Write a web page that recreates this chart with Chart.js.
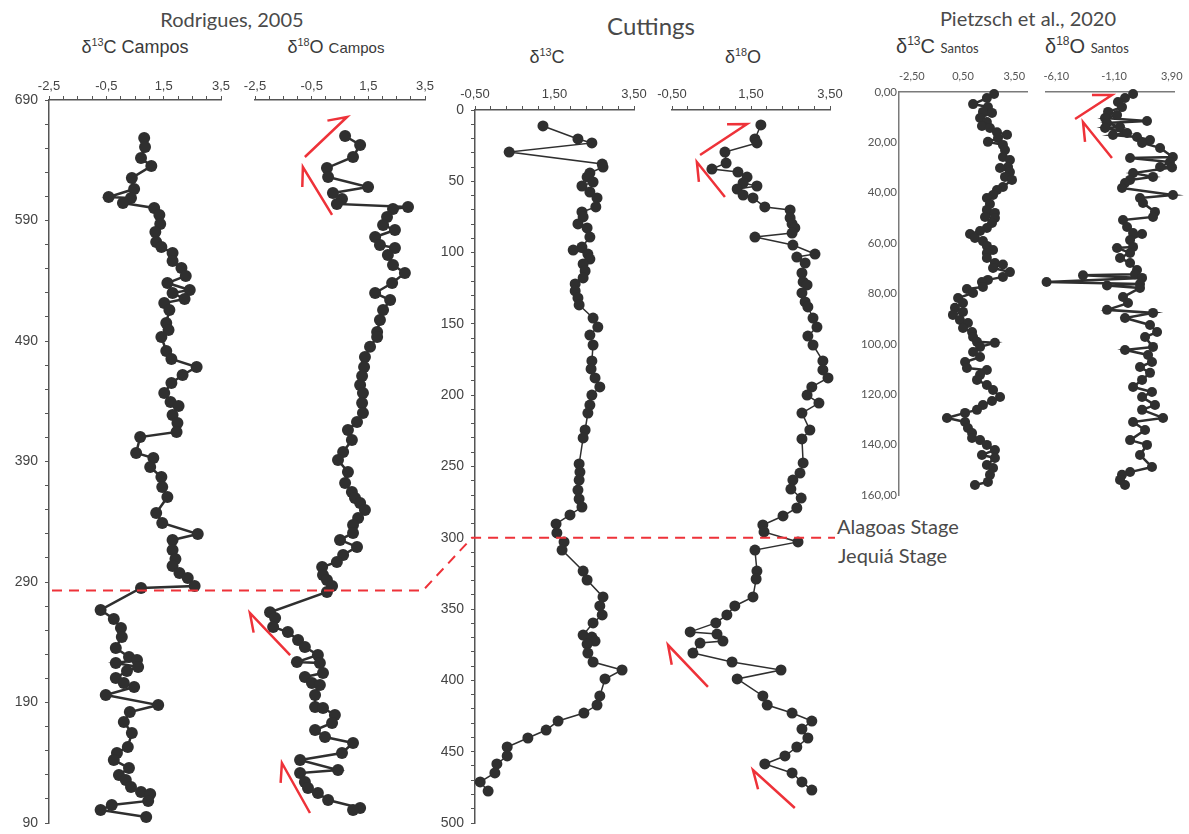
<!DOCTYPE html>
<html>
<head>
<meta charset="utf-8">
<script src="https://cdn.jsdelivr.net/npm/chart.js@4.4.0/dist/chart.umd.min.js"></script>
<style>
  body { margin: 0; background: #fff; width: 1189px; height: 834px; overflow: hidden; position: relative; font-family: 'Liberation Sans', Arial, sans-serif; }
  canvas { position: absolute; }
  .t { position: absolute; white-space: nowrap; color: #3a3a3a; }
  .c { transform: translate(-50%, -50%); }
  .l { transform: translate(0, -50%); }
  .head { font-family: Lato, 'Open Sans', sans-serif; color: #4a4a4a; }
  sup { font-size: 0.6em; vertical-align: 0.6em; line-height: 0; }
</style>
</head>
<body>
<div class="t c head" style="left:232px;top:19px;font-size:20px">Rodrigues, 2005</div>
<div class="t c" style="left:135px;top:47px;font-size:18px">δ<sup>13</sup>C Campos</div>
<div class="t c" style="left:336px;top:47px;font-size:18px">δ<sup>18</sup>O <span style="font-size:15px">Campos</span></div>

<div class="t c head" style="left:651px;top:25px;font-size:24px">Cuttings</div>
<div class="t c" style="left:547px;top:57px;font-size:18px">δ<sup>13</sup>C</div>
<div class="t c" style="left:743px;top:57px;font-size:18px">δ<sup>18</sup>O</div>

<div class="t c head" style="left:1028px;top:18px;font-size:20px">Pietzsch et al., 2020</div>
<div class="t l" style="left:896px;top:46px;font-size:20px">δ<sup>13</sup>C <span style="font-size:13px;font-family:Lato">Santos</span></div>
<div class="t l" style="left:1045px;top:46px;font-size:20px">δ<sup>18</sup>O <span style="font-size:13px;font-family:Lato">Santos</span></div>

<div class="t l head" style="left:837px;top:526px;font-size:20px">Alagoas Stage</div>
<div class="t l head" style="left:838px;top:555px;font-size:20px">Jequiá Stage</div>

<canvas id="rodC"></canvas>
<canvas id="rodO"></canvas>
<canvas id="cutC"></canvas>
<canvas id="cutO"></canvas>
<canvas id="pieC"></canvas>
<canvas id="pieO"></canvas>
<canvas id="overlay" width="1189" height="834" style="left:0;top:0"></canvas>

<script>
// Rodrigues, 2005 (Campos) - depth axis 90..690
const rodC13Depth = [658.5,651,641.9,635.2,625.3,616.1,609.5,608.7,604.5,600.4,594.6,587.1,580.5,572.2,568,563,556.4,550.6,544,538.1,532.3,529.8,524.9,521.5,515.7,505,499.1,493.3,481.7,475.1,468.4,461.8,455.1,446.8,439.4,436.1,428.6,422,414.5,410.3,397.1,392.9,385.4,377.1,368.8,360.5,347.3,339,329.8,324.9,316.6,309.1,303.3,297.5,293.3,286.7,285,266.8,259.3,251.8,244.4,235.2,227.8,225.3,222.8,219.5,216.1,210.3,206.2,202.9,196.2,187.9,182.1,173.8,164.7,153.1,148.1,142.3,135.6,129.8,125.7,119.9,115.7,114.1,108.3,104.9,100.8,95];
const rodC13Value = [0.82,0.85,0.71,1.07,0.39,0.47,-0.42,0.36,0.08,1.17,1.35,1.38,1.21,1.24,1.42,1.81,1.81,2.12,2.27,1.63,2.41,1.81,2.23,1.52,1.70,1.59,1.67,1.42,1.59,1.77,2.65,2.16,1.77,1.52,1.74,2.02,1.81,1.98,1.95,0.68,0.54,1.14,1.03,1.42,1.45,1.63,1.24,1.45,2.69,1.81,1.81,1.91,1.81,2.05,2.34,2.58,0.71,-0.70,-0.24,0.01,0.04,-0.17,0.29,0.57,-0.17,0.61,0.22,-0.17,0.11,0.47,-0.52,1.31,0.32,0.11,0.39,0.25,-0.13,-0.24,0.29,-0.06,0.18,0.36,0.71,1.03,0.96,-0.31,-0.70,0.89];

const rodO18Depth = [660.1,652.7,642.7,633.6,626.1,617.8,612.8,607.8,603.7,601.2,599.5,592.9,586.3,582.1,576.3,569.7,567.2,561.4,553.1,546.4,538.1,529.8,524,515.7,507.4,497.5,493.3,485.2,476.7,468.4,460.9,453.5,446.8,438.5,430.3,422.8,416.1,407.8,397.9,391.2,381.3,372.2,364.7,359.7,355.6,349.8,343.1,337.3,330.7,324.9,319.1,312.4,306.6,302.4,295.8,291.7,286.7,281.7,264.9,260.1,252.7,248.5,241.9,236,229.4,223.6,222.8,214.5,211.2,206.2,204.5,196.2,186.3,185.4,179.6,173,167.2,161.4,156.4,148.1,142.3,134,131.5,124,119,114.9,109.1,102.4,100.8];
const rodO18Value = [0.68,1.21,0.96,0.04,0.08,1.49,0.25,0.57,0.39,2.90,2.37,2.16,2.02,2.44,1.74,1.91,2.44,2.19,2.37,2.79,2.34,1.74,2.27,2.02,1.91,1.81,1.81,1.56,1.38,1.35,1.28,1.21,1.31,1.28,1.31,1.10,0.78,0.92,0.61,0.43,0.78,0.68,0.92,1.03,1.21,1.38,1.14,0.96,0.96,0.50,1.10,0.61,0.39,-0.13,-0.10,0.04,0.22,0.04,-1.97,-1.79,-1.86,-1.34,-0.98,-0.74,-0.28,-1.02,-0.21,-0.10,-0.74,-0.49,-0.21,-0.38,-0.38,-0.10,0.32,0.22,-0.38,-0.03,0.96,0.57,-0.91,0.43,-0.91,-0.74,-0.63,-0.28,0.08,1.21,0.96];

// Cuttings - depth axis 0..500
const cutC13Depth = [11.2,20.3,23.1,29.5,37.9,40,44.2,47,50.5,53.3,57.5,61.7,68,71.5,75,79.9,82.7,89.1,96.1,98.2,101,104.5,108,112.9,117.8,122,126.9,131.8,136.7,145.9,152.2,157.8,164.8,176,181.6,187.9,194.2,199.9,206.9,212.5,224.4,230,248.2,253.9,259.5,266.5,272.8,278.4,284,290.3,296.6,302.9,308.6,323.3,329.6,341.5,347.8,354.1,359.7,368.2,369.6,372.4,374.5,380.8,387.1,392.7,399,410.9,417.3,422.9,428.5,434.8,440.4,446.7,453,458.6,464.9,471.2,477.6];
const cutC13Value = [1.21,2.09,2.44,0.36,2.70,2.72,2.39,2.32,2.47,2.19,2.39,2.57,2.54,2.19,2.22,2.09,2.32,2.39,2.19,1.97,2.34,2.39,2.22,2.27,2.22,2.02,2.02,2.09,2.12,2.47,2.59,2.39,2.47,2.44,2.42,2.52,2.64,2.44,2.39,2.34,2.27,2.22,2.12,2.14,2.12,2.09,2.12,2.19,1.89,1.54,1.56,1.74,1.69,2.22,2.32,2.72,2.64,2.70,2.47,2.22,2.44,2.52,2.32,2.34,2.47,3.20,2.77,2.64,2.57,2.24,1.59,1.29,0.83,0.31,0.31,0.05,0.00,-0.37,-0.17];

const cutO18Depth = [10.5,20.3,23.1,29.5,37.2,41.4,43.5,47,51.2,53.3,55.4,59.6,61.7,68,70.1,75.7,79.9,82.7,86.3,89.1,94.7,101,103.1,107.3,114.3,120.6,122.7,128.3,134.6,138.1,145.9,152.2,158.5,164.8,176,182.3,187.9,194.2,199.9,205.5,212.5,224.4,230.7,247.5,254.6,259.5,265.8,272.1,279.1,284.7,291,295.9,302.9,308.6,323.3,328.9,341.5,347.8,354.1,359.7,366,367.5,372.4,373.8,380.8,387.1,392.7,399,410.9,417.3,422.9,428.5,434.1,440.4,446.7,453,458.6,464.9,471.2,476.9];
const cutO18Value = [1.75,1.60,1.65,0.84,0.87,0.51,1.17,1.40,1.30,1.65,1.15,1.30,1.55,1.85,2.49,2.49,2.54,2.61,2.54,1.60,2.56,3.12,2.66,2.87,2.79,2.82,2.92,2.79,2.87,2.94,3.07,3.17,2.94,3.07,3.32,3.32,3.45,3.04,2.92,3.22,2.79,2.99,2.79,2.82,2.74,2.56,2.51,2.77,2.66,2.31,1.80,1.83,2.69,1.60,1.65,1.63,1.55,1.09,0.89,0.61,-0.04,0.64,0.79,0.21,0.03,1.02,2.26,1.15,1.80,1.91,2.54,3.04,2.79,2.94,2.66,2.36,1.85,2.54,2.79,3.04];

// Pietzsch et al., 2020 (Santos) - depth axis 0..160
const pieC13Depth = [0.8,2.4,4.8,6,7.9,8.3,10.3,11.9,13.5,14.3,16,17,18.3,19.8,21,23,25.8,27,29.8,30.2,31.8,33.7,34.9,37.7,38.9,40.9,42.1,44.5,46.8,48,49.6,50,52,54,55.2,56.4,58,59.2,61.1,62.7,63.9,65.9,67.9,68.5,69.9,71.5,73.4,74.6,75.4,77.4,78.2,79.8,81.8,83.8,85.7,87.3,88.5,90.5,91.7,93.7,95.3,97.3,99.2,99.6,101.2,103.2,105.2,107.2,109.6,110.4,112.3,114.3,116.3,118.3,121.1,122.7,124.3,126.2,127.4,129.4,131,133.4,135.4,137.4,138.2,140.1,142.1,144.1,145.3,148.1,149.3,152,154.8,156];
const pieC13Value = [2.32,1.90,1.09,1.96,1.67,2.20,1.50,1.90,1.61,2.08,2.49,3.08,2.55,1.96,2.84,2.96,2.84,3.25,3.14,2.67,3.25,2.96,3.37,2.84,2.49,2.26,1.90,2.08,1.90,2.37,1.79,2.37,2.20,1.90,1.50,0.91,1.20,1.67,1.90,2.26,1.90,1.90,2.37,2.84,2.26,3.25,2.84,1.96,1.61,1.67,0.73,1.09,0.21,0.50,0.03,0.50,-0.09,0.32,0.79,0.50,1.03,1.09,1.32,2.37,1.50,1.09,1.50,0.62,0.73,1.90,1.50,1.32,1.90,2.26,2.67,2.20,1.67,1.32,0.62,-0.44,0.62,0.79,1.03,1.03,1.50,1.90,2.37,1.61,2.37,1.90,2.26,2.08,1.96,1.20];

const pieO18Depth = [0.8,2.4,4,6,7.9,9.1,10.3,11.5,12.3,13.9,14.3,16.3,17.1,17.9,19.1,20.2,22.2,25.8,26.2,27.8,29.8,30,32.2,33.7,34.9,36.1,38.1,40.9,42.1,44.1,47.6,49.6,50.8,53.6,56,56.4,58.8,61.5,61.9,63.9,65.9,67.9,70.7,72.4,72.8,73.8,75.4,76.2,76.8,77.8,81.4,83.8,86.5,87.7,89.7,92.5,95.3,97.3,101.2,102.4,104.4,107.2,109.2,111.5,114.3,117.1,119.1,121.1,124.3,126.2,129.4,131,134.2,138.2,140.1,144.1,148.9,150.9,152,154,156];
const pieO18Value = [0.55,-0.15,-0.76,-0.41,-1.62,-0.84,-1.88,1.76,-1.71,-0.58,-1.88,0.03,-1.19,0.89,2.02,1.33,2.89,4.0,0.29,3.75,2.89,3.93,0.55,2.28,0.29,-0.15,-0.41,4.01,1.15,1.41,2.45,2.28,-0.32,0.03,0.55,1.33,0.29,0.55,-0.84,0.29,-0.58,0.29,0.89,0.72,-3.79,1.33,-6.95,1.15,-1.71,1.15,-0.32,0.11,-1.71,2.28,-0.15,2.02,2.63,1.59,2.28,-0.15,1.85,2.19,1.15,2.02,1.33,0.55,2.19,1.33,2.45,1.33,3.15,0.55,1.59,0.29,1.76,1.15,2.19,0.29,-0.41,-0.58,-0.15];

// tick labels
const rodValueLabels = [-2.5, -0.5, 1.5, 3.5];
const rodDepthLabels = [90, 190, 290, 390, 490, 590, 690];
const cutValueLabels = [-0.5, 1.5, 3.5];
const cutDepthLabels = [0, 50, 100, 150, 200, 250, 300, 350, 400, 450, 500];
const pieC13Labels = [-2.5, 0.5, 3.5];
const pieO18Labels = [-6.1, -1.1, 3.9];
const pieDepthLabels = [0, 20, 40, 60, 80, 100, 120, 140, 160];

// stage boundary (Alagoas / Jequiá) and trend arrows [tailX, tailY, tipX, tipY]
const stageDepthRod = 283;
const stageDepthCut = 300;
const rodO18Arrows = [[-0.74, 642.7, 0.75, 675.9], [0.22, 594.6, -0.81, 634.4], [-1.26, 229.4, -2.68, 264.3], [-0.56, 98.3, -1.55, 139.8]];
const cutO18Arrows = [[0.21, 31.6, 1.40, 9.8], [0.84, 61, 0.13, 36.5], [0.41, 404.6, -0.6, 375.2], [2.61, 489.5, 1.55, 462.8]];
const pieO18Arrows = [[-4.48, 10.7, -1.28, 1.2], [-1.28, 26.2, -3.79, 11.9]];

const MARK = '#2f2f2f';
const RED = '#ee3239';

function steps(min, max, step) {
  const out = [];
  for (let v = min; v <= max + 1e-9; v += step) out.push(Math.round(v * 1000) / 1000);
  return out;
}
function fmt(v, d) { return v.toFixed(d).replace('.', ','); }
function isLabel(list, v) { return list.some(l => Math.abs(l - v) < 1e-6); }

function makePanel(id, xs, ys, o) {
  const cv = document.getElementById(id);
  cv.width = o.w;
  cv.height = o.h;
  cv.style.left = o.left + 'px';
  cv.style.top = o.top + 'px';
  return new Chart(cv, {
    type: 'scatter',
    data: {
      datasets: [{
        data: xs.map((x, i) => ({ x: x, y: ys[i] })),
        showLine: true,
        borderColor: MARK,
        borderWidth: o.lw,
        pointRadius: o.r,
        pointHoverRadius: o.r,
        pointBackgroundColor: MARK,
        pointBorderWidth: 0,
        clip: false
      }]
    },
    options: {
      responsive: false,
      animation: false,
      devicePixelRatio: 1,
      events: [],
      layout: { padding: { left: o.padL, right: o.padR, top: 0, bottom: o.padB } },
      plugins: { legend: { display: false }, tooltip: { enabled: false } },
      scales: {
        x: {
          type: 'linear', position: 'top', min: o.xMin, max: o.xMax,
          afterBuildTicks: s => { s.ticks = o.xTicks.map(v => ({ value: v })); },
          afterFit: s => { s.height = o.hx; s.paddingLeft = 0; s.paddingRight = 0; },
          ticks: {
            autoSkip: false, maxRotation: 0, padding: o.xPad, color: o.lc, font: o.xFont,
            callback: v => isLabel(o.xLabels, v) ? fmt(v, o.xDec) : ''
          },
          grid: { drawOnChartArea: false, drawTicks: o.tick > 0, tickLength: o.tick, color: o.ac, lineWidth: 1 },
          border: { display: true, color: o.ac, width: o.aw }
        },
        y: {
          type: 'linear', display: o.yShow, min: o.yMin, max: o.yMax, reverse: o.reverse,
          afterBuildTicks: s => { s.ticks = o.yTicks.map(v => ({ value: v })); },
          afterFit: s => { s.width = o.wy; s.paddingTop = 0; s.paddingBottom = 0; },
          ticks: {
            autoSkip: false, padding: o.yPad, color: o.lc, font: o.yFont,
            callback: v => isLabel(o.yLabels, v) ? fmt(v, o.yDec) : ''
          },
          grid: { drawOnChartArea: false, drawTicks: o.ytick > 0, tickLength: o.ytick, color: o.ac, lineWidth: 1 },
          border: { display: true, color: o.ac, width: o.aw }
        }
      }
    }
  });
}

const arial = "'Liberation Sans', Arial, sans-serif";
const classic = { xFont: { family: arial, size: 13 }, yFont: { family: arial, size: 14 }, lc: '#444', ac: '#555', aw: 1.5, tick: 4, ytick: 4 };
const excel = { xFont: { family: "Lato, 'Open Sans', sans-serif", size: 11 }, yFont: { family: "Lato, 'Open Sans', sans-serif", size: 11.5 }, lc: '#555', ac: '#7a7a7a', aw: 1.5, tick: 0, ytick: 0 };

const rodBase = Object.assign({}, classic, {
  top: 60, h: 773, hx: 40, padB: 10, lw: 2.5, r: 6,
  xMin: -2.5, xMax: 3.5, xTicks: steps(-2.5, 3.5, 0.5), xLabels: rodValueLabels, xDec: 1, xPad: 2,
  yMin: 90, yMax: 690, reverse: false, yTicks: steps(90, 690, 20), yLabels: rodDepthLabels, yDec: 0, yPad: 7
});
const cutBase = Object.assign({}, classic, {
  top: 70, h: 763, hx: 40, padB: 10, lw: 1.5, r: 5.5,
  xMin: -0.5, xMax: 3.5, xTicks: steps(-0.5, 3.5, 0.4), xLabels: cutValueLabels, xDec: 2, xPad: 4,
  yMin: 0, yMax: 500, reverse: true, yTicks: steps(0, 500, 10), yLabels: cutDepthLabels, yDec: 0, yPad: 7
});
const pieBase = Object.assign({}, excel, {
  top: 62, h: 443, hx: 30, padB: 10, lw: 2.5, r: 5,
  xDec: 2, xPad: 9,
  yMin: 0, yMax: 160, reverse: true, yTicks: pieDepthLabels, yLabels: pieDepthLabels, yDec: 2, yPad: 2
});

const rodC = makePanel('rodC', rodC13Value, rodC13Depth, Object.assign({}, rodBase, { left: 0, w: 235, wy: 49, padL: 0, padR: 14, yShow: true }));
const rodO = makePanel('rodO', rodO18Value, rodO18Depth, Object.assign({}, rodBase, { left: 233, w: 212, wy: 0, padL: 22, padR: 20, yShow: false }));
const cutC = makePanel('cutC', cutC13Value, cutC13Depth, Object.assign({}, cutBase, { left: 420, w: 236, wy: 55, padL: 0, padR: 22, yShow: true }));
const cutO = makePanel('cutO', cutO18Value, cutO18Depth, Object.assign({}, cutBase, { left: 648, w: 204, wy: 0, padL: 24, padR: 22, yShow: false }));
const pieC = makePanel('pieC', pieC13Value, pieC13Depth, Object.assign({}, pieBase, {
  left: 840, w: 200, wy: 59, padL: 0, padR: 13, yShow: true,
  xMin: -3.25, xMax: 4.25, xTicks: pieC13Labels, xLabels: pieC13Labels
}));
const pieO = makePanel('pieO', pieO18Value, pieO18Depth, Object.assign({}, pieBase, {
  left: 1030, w: 158, wy: 0, padL: 16, padR: 14, yShow: false,
  xMin: -7, xMax: 4.1, xTicks: pieO18Labels, xLabels: pieO18Labels
}));

// annotations on a page-wide overlay, placed through each panel's scales
function pageX(ch, v) { return ch.canvas.offsetLeft + ch.scales.x.getPixelForValue(v); }
function pageY(ch, v) { return ch.canvas.offsetTop + ch.scales.y.getPixelForValue(v); }

const ctx = document.getElementById('overlay').getContext('2d');
ctx.strokeStyle = RED;
ctx.lineCap = 'butt';

// stage boundary
const yR = pageY(rodC, stageDepthRod);
const yC = pageY(cutC, stageDepthCut);
ctx.lineWidth = 2;
ctx.setLineDash([10, 7]);
ctx.beginPath();
ctx.moveTo(rodC.chartArea.left + 3, yR);
ctx.lineTo(rodO.canvas.offsetLeft + rodO.chartArea.right - 2, yR);
ctx.lineTo(cutC.canvas.offsetLeft + cutC.chartArea.left - 3, yC);
ctx.lineTo(cutO.canvas.offsetLeft + cutO.chartArea.right + 5, yC);
ctx.stroke();
ctx.setLineDash([]);

// trend arrows (half-headed)
function arrows(ch, list) {
  ctx.lineWidth = 2.5;
  list.forEach(a => {
    const x0 = pageX(ch, a[0]), y0 = pageY(ch, a[1]);
    const x1 = pageX(ch, a[2]), y1 = pageY(ch, a[3]);
    const dx = x0 - x1, dy = y0 - y1, len = Math.hypot(dx, dy);
    const th = 33 * Math.PI / 180, hl = 20;
    const bx = (dx * Math.cos(th) - dy * Math.sin(th)) / len * hl;
    const by = (dx * Math.sin(th) + dy * Math.cos(th)) / len * hl;
    ctx.beginPath();
    ctx.moveTo(x0, y0);
    ctx.lineTo(x1, y1);
    ctx.lineTo(x1 + bx, y1 + by);
    ctx.stroke();
  });
}
arrows(rodO, rodO18Arrows);
arrows(cutO, cutO18Arrows);
arrows(pieO, pieO18Arrows);
</script>
</body>
</html>
